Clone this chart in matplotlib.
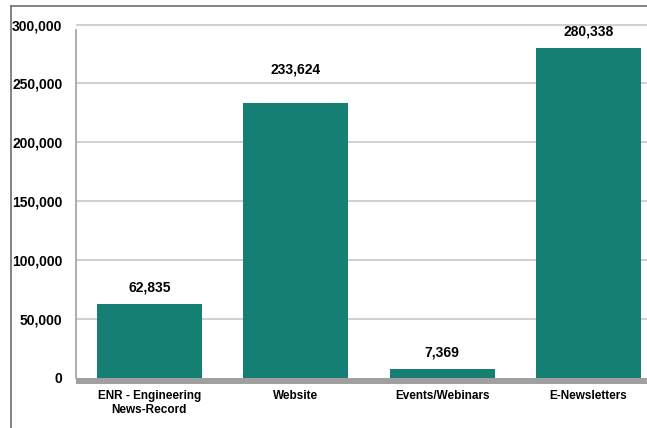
import matplotlib
matplotlib.use("Agg")
import matplotlib.pyplot as plt
from matplotlib.lines import Line2D
from matplotlib.patches import Rectangle

categories = ["ENR - Engineering\nNews-Record", "Website", "Events/Webinars", "E-Newsletters"]
values = [62835, 233624, 7369, 280338]
yticks = [0, 50000, 100000, 150000, 200000, 250000, 300000]

plt.rcParams['font.family'] = ['Liberation Sans', 'DejaVu Sans']

W, H = 647, 428
fig = plt.figure(figsize=(W / 100, H / 100), dpi=100)

# axes geometry in pixels
x_left, x_right = 76.25, 661.75
y_top_px, y_bot_px = 22.2, 384.0
ax = fig.add_axes([x_left / W, (H - y_bot_px) / H, (x_right - x_left) / W, (y_bot_px - y_top_px) / H])
ax.set_xlim(-0.5, 3.5)
ax.set_ylim(-5500, 302000)

for s in ax.spines.values():
    s.set_visible(False)

# gridlines
for t in yticks[1:]:
    ax.axhline(t, color="#C8C8C8", lw=1.2, zorder=0)

# left axis line
ax.plot([-0.5, -0.5], [0, 295000], color="#A0A0A0", lw=1.2, zorder=1, clip_on=False)

# floor
ax.add_patch(Rectangle((-0.5, -5500), 4.0, 5500, color="#A0A0A0", zorder=2, lw=0))

bars = ax.bar(range(len(categories)), values, width=0.715, color="#167F74", zorder=3)
label_offsets = [6.5, 19, 6.5, 6.5]
for i, v in enumerate(values):
    ax.annotate(f"{v:,}", (i, v), xytext=(0, label_offsets[i]), textcoords="offset points",
                ha="center", va="bottom", fontsize=10, fontweight="bold", color="#000000")

ax.set_yticks(yticks)
ax.set_yticklabels([f"{t:,}" for t in yticks], fontsize=10, fontweight="bold", color="#000000")
ax.set_xticks(range(len(categories)))
ax.set_xticklabels(categories, fontsize=8.5, fontweight="bold", color="#000000", linespacing=1.25)
ax.tick_params(axis="y", length=0, pad=10)
ax.tick_params(axis="x", length=0, pad=4)

# figure border lines (top and left)
fig.add_artist(Line2D([11 / W, 11 / W], [0, (H - 5.5) / H], color="#707070", lw=1.2, transform=fig.transFigure))
fig.add_artist(Line2D([11 / W, 1], [(H - 5.5) / H, (H - 5.5) / H], color="#707070", lw=1.2, transform=fig.transFigure))

fig.savefig("out.png", dpi=100)
